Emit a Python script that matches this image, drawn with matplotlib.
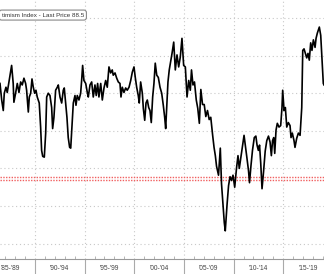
import matplotlib
matplotlib.use("Agg")
import matplotlib.pyplot as plt
from matplotlib.transforms import blended_transform_factory

# index level (decimal year, value)
years = [1986.48, 1986.65, 1986.81, 1986.91, 1987.08, 1987.21, 1987.41, 1987.65, 1987.81, 1987.88,
         1988.05, 1988.22, 1988.39, 1988.56, 1988.72, 1988.89, 1989.06, 1989.16, 1989.33, 1989.43,
         1989.57, 1989.70, 1989.83, 1989.97, 1990.10, 1990.23, 1990.43, 1990.57, 1990.67, 1990.78,
         1990.94, 1991.08, 1991.18, 1991.34, 1991.51, 1991.68, 1991.78, 1991.91, 1992.08, 1992.25,
         1992.35, 1992.52, 1992.69, 1992.85, 1992.95, 1993.09, 1993.22, 1993.35, 1993.49, 1993.60,
         1993.70, 1993.86, 1994.03, 1994.13, 1994.26, 1994.43, 1994.60, 1994.70, 1994.80, 1994.93,
         1995.11, 1995.27, 1995.37, 1995.54, 1995.71, 1995.87, 1996.04, 1996.17, 1996.31, 1996.44,
         1996.62, 1996.78, 1996.95, 1997.12, 1997.28, 1997.45, 1997.62, 1997.78, 1997.88, 1998.06,
         1998.23, 1998.39, 1998.56, 1998.66, 1998.79, 1998.96, 1999.13, 1999.29, 1999.47, 1999.64,
         1999.80, 1999.97, 2000.10, 2000.24, 2000.40, 2000.50, 2000.64, 2000.81, 2000.91, 2001.05,
         2001.18, 2001.31, 2001.45, 2001.58, 2001.71, 2001.85, 2001.98, 2002.11, 2002.26, 2002.42,
         2002.59, 2002.76, 2002.92, 2003.06, 2003.16, 2003.26, 2003.39, 2003.52, 2003.62, 2003.80,
         2003.97, 2004.13, 2004.30, 2004.47, 2004.63, 2004.80, 2004.97, 2005.14, 2005.31, 2005.48,
         2005.64, 2005.76, 2005.91, 2006.06, 2006.24, 2006.39, 2006.55, 2006.70, 2006.87, 2007.04,
         2007.20, 2007.37, 2007.54, 2007.70, 2007.89, 2008.03, 2008.16, 2008.28, 2008.38, 2008.48,
         2008.66, 2008.78, 2008.93, 2009.06, 2009.16, 2009.34, 2009.49, 2009.64, 2009.79, 2009.94,
         2010.11, 2010.29, 2010.44, 2010.57, 2010.69, 2010.87, 2011.05, 2011.18, 2011.33, 2011.50,
         2011.60, 2011.75, 2011.90, 2012.08, 2012.24, 2012.36, 2012.49, 2012.61, 2012.73, 2012.86,
         2013.01, 2013.18, 2013.34, 2013.51, 2013.67, 2013.80, 2013.92, 2014.04, 2014.14, 2014.27,
         2014.40, 2014.57, 2014.74, 2014.87, 2014.94, 2015.08, 2015.21, 2015.35, 2015.51, 2015.68,
         2015.78, 2015.91, 2016.08, 2016.18, 2016.35, 2016.52, 2016.69, 2016.86, 2016.96, 2017.09,
         2017.22, 2017.36, 2017.49, 2017.62, 2017.76, 2017.89, 2018.03, 2018.20, 2018.30, 2018.43,
         2018.53, 2018.63, 2018.77, 2018.90, 2019.03, 2019.10]
values = [101.3, 99.1, 97.7, 100.0, 100.8, 100.1, 101.7, 103.7, 101.3, 98.8,
          100.0, 101.3, 100.1, 101.5, 101.1, 102.0, 101.3, 100.4, 97.5, 99.5,
          100.0, 101.9, 100.8, 100.0, 100.4, 99.5, 98.7, 95.5, 92.4, 91.6,
          91.5, 94.7, 99.5, 100.0, 99.7, 98.1, 95.3, 96.8, 100.4, 100.8,
          101.1, 99.5, 98.7, 100.4, 100.7, 98.7, 96.8, 94.1, 92.8, 92.7,
          95.1, 98.7, 99.7, 98.4, 99.7, 99.1, 100.0, 101.7, 103.7, 101.7,
          101.3, 100.1, 99.5, 101.1, 101.5, 99.5, 101.1, 99.7, 101.3, 99.5,
          101.3, 99.1, 100.7, 101.7, 100.8, 103.5, 102.7, 103.1, 102.4, 102.7,
          102.0, 101.5, 101.3, 99.5, 100.8, 100.1, 100.7, 100.4, 100.8, 101.7,
          102.8, 103.5, 102.1, 100.8, 99.7, 98.7, 101.5, 100.0, 98.0, 96.4,
          98.7, 99.1, 98.1, 97.7, 96.1, 99.5, 101.3, 104.0, 102.4, 102.1,
          100.8, 100.0, 98.4, 96.8, 95.3, 98.1, 101.5, 103.1, 103.9, 105.3,
          106.8, 103.1, 105.1, 103.5, 104.8, 107.3, 103.7, 103.5, 99.5, 101.7,
          100.4, 103.1, 101.1, 101.5, 99.1, 98.0, 96.0, 100.5, 98.5, 98.5,
          96.9, 97.7, 96.5, 96.8, 94.4, 92.8, 91.7, 90.3, 89.7, 89.1,
          92.7, 88.0, 85.1, 82.8, 81.7, 85.2, 87.7, 88.9, 88.4, 89.1,
          87.5, 90.0, 91.7, 90.0, 91.1, 92.8, 94.4, 93.1, 91.5, 89.7,
          88.1, 90.4, 92.4, 94.1, 94.3, 93.1, 92.4, 93.1, 90.7, 87.3,
          89.5, 92.3, 93.7, 94.3, 93.5, 91.7, 93.7, 94.1, 92.0, 95.1,
          96.0, 95.5, 95.7, 98.1, 100.4, 97.7, 98.1, 95.5, 96.1, 95.7,
          94.1, 94.7, 93.7, 92.8, 94.0, 94.7, 94.4, 98.1, 105.7, 105.9,
          105.3, 104.7, 105.3, 104.4, 106.7, 105.7, 107.1, 106.1, 107.3, 108.0,
          108.4, 108.8, 107.7, 104.4, 101.3, 101.1]

ref_levels = [88.85, 88.4]
period_starts = [1985, 1990, 1995, 2000, 2005, 2010, 2015]
period_labels = ["'85-'89", "'90-'94", "'95-'99", "'00-'04", "'05-'09", "'10-'14", "'15-'19"]
title_text = "timism Index - Last Price 88.5"

plt.rcParams['font.family'] = ['Liberation Sans', 'DejaVu Sans']

fig = plt.figure(figsize=(3.24, 2.74), dpi=100)
ax = fig.add_axes([0, 0.056, 1, 0.944])

ax.plot(years, values, color='black', lw=1.2, zorder=3)
for lvl in ref_levels:
    ax.axhline(lvl, color='#f06060', lw=1.0, ls=(0, (1, 1)), zorder=2)

ax.set_xlim(1986.48, 2019.1)
ax.set_ylim(78.0, 112.4)

ax.set_yticks([80, 85, 90, 95, 100, 105, 110])
ax.set_xticks([1990, 1995, 2000, 2005, 2010, 2015])
ax.set_xticks(range(1987, 2020), minor=True)
ax.set_xticklabels([])
ax.set_yticklabels([])
ax.tick_params(axis='y', length=0)
ax.tick_params(axis='x', which='major', length=12, width=0.8, color='#aaaaaa', direction='out')
ax.tick_params(axis='x', which='minor', length=2, width=0.6, color='#aaaaaa', direction='in')
ax.grid(True, which='major', color='#c8c8c8', lw=0.8, ls=(0, (1, 2.5)))

for s in ['top', 'right', 'left']:
    ax.spines[s].set_visible(False)
ax.spines['bottom'].set_color('#999999')
ax.spines['bottom'].set_linewidth(0.8)

tr = blended_transform_factory(ax.transData, ax.transAxes)
for start, lab in zip(period_starts, period_labels):
    ax.text(start + 2.5, -0.037, lab, transform=tr, ha='center', va='center',
            fontsize=4.8, color='#444444')

fig.text(0.259, 0.945, title_text, ha='right', va='center', fontsize=4.5, color='#333333',
         bbox=dict(boxstyle='round,pad=0.4,rounding_size=0.4', fc='white', ec='#888888', lw=0.8))

fig.savefig("out.png", dpi=100)
